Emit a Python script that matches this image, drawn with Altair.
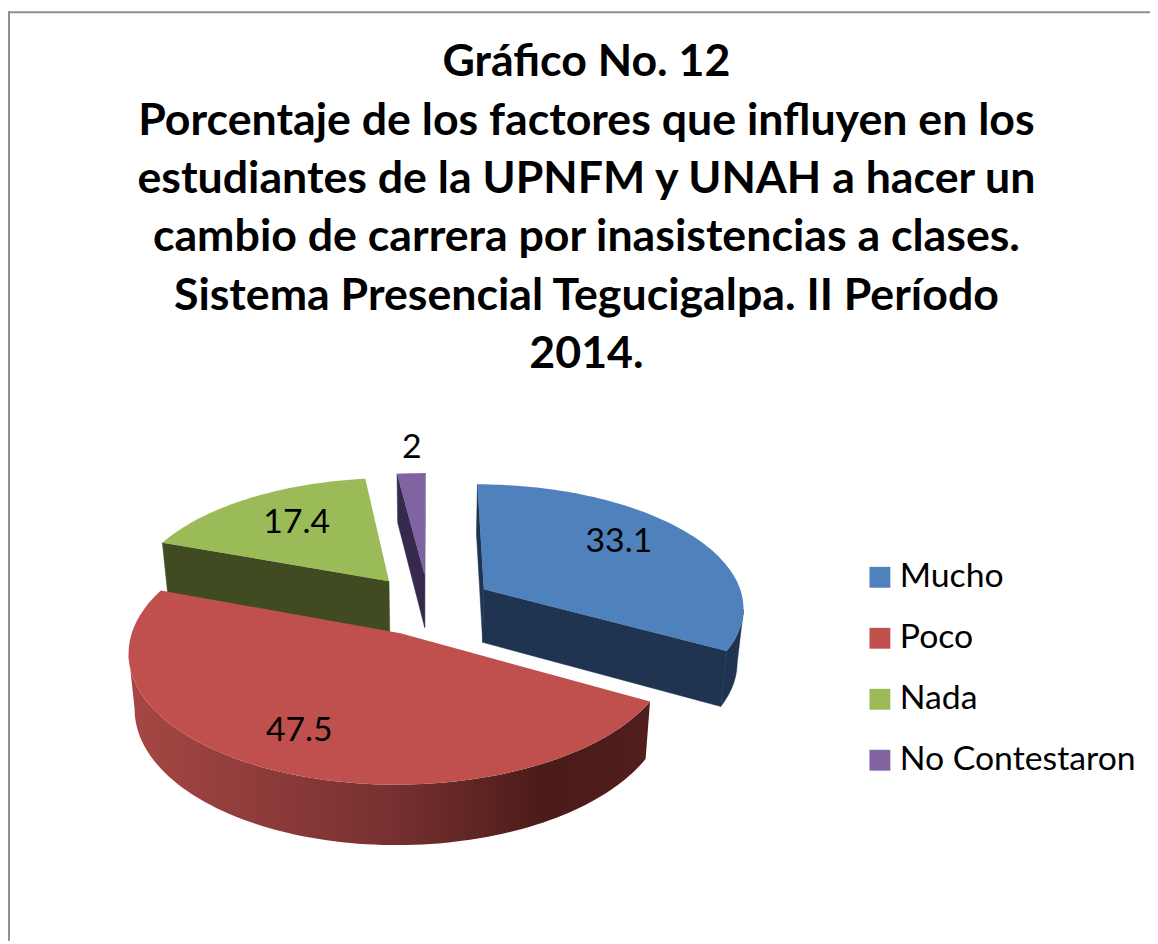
import math
import altair as alt

# ---- values
categories = ["Mucho", "Poco", "Nada", "No Contestaron"]
values = [33.1, 47.5, 17.4, 2]
labels = ["33.1", "47.5", "17.4", "2"]
top_colors = ["#4F81BD", "#C0504D", "#9BBB59", "#8064A2"]
wall_colors = ["#1E3450", "#7A3230", "#404B22", "#352A4E"]

title_lines = [
    "Gráfico No. 12",
    "Porcentaje de los factores que influyen en los",
    "estudiantes de la UPNFM y UNAH a hacer un",
    "cambio de carrera por inasistencias a clases.",
    "Sistema Presencial Tegucigalpa. II Período",
    "2014.",
]

# ---- layout of the projected pie (page pixels)
OX, OY = 8, 8
X0, Y0, RX, RY, PERSP = 431.5, 605.5, 262.5, 123.6, 0.133
EXPLODE, DEPTH, SHRINK = 0.25, 54.0, 0.02
label_offsets = [(136, -47.5), (-102, 98), (-93, -58.5), (-13, -127.5)]
TITLE_X, TITLE_Y0, TITLE_STEP = 590.5, 59.5, 58.8


def top_pt(u, v):
    den = 1 - PERSP * v
    return X0 + RX * u / den, Y0 + RY * v / den


def low_pt(u, v):
    den = 1 - PERSP * v
    x, y = top_pt(u, v)
    return X0 + (x - X0) * (1 - SHRINK), Y0 + (y - Y0) * (1 - SHRINK) + DEPTH / den


def geo(points):
    ring = [[round(x - OX, 2), round(y - OY, 2)] for x, y in points]
    ring.append(ring[0])
    return {"type": "Polygon", "coordinates": [ring]}


total = sum(values)
walls, red_rim, tops, texts = [], [], [], []
start = 0.0
spans = []
for val in values:
    spans.append((start, start + val / total * 2 * math.pi))
    start = spans[-1][1]

for i in [3, 2, 0, 1]:
    a0, a1 = spans[i]
    mid = (a0 + a1) / 2
    ax, ay = EXPLODE * math.sin(mid), -EXPLODE * math.cos(mid)
    n = max(4, int((a1 - a0) / math.radians(1.5)))
    rim = [(ax + math.sin(a0 + (a1 - a0) * j / n), ay - math.cos(a0 + (a1 - a0) * j / n)) for j in range(n + 1)]
    outline = [(ax, ay)] + rim
    visible_rim = []
    for j in range(len(outline)):
        p, q = outline[j], outline[(j + 1) % len(outline)]
        px, py = top_pt(*p)
        qx, qy = top_pt(*q)
        if qx < px - 0.01:
            if 0 < j < len(outline) - 1:
                if not visible_rim:
                    visible_rim.append(p)
                visible_rim.append(q)
            else:
                walls.append({"type": "Feature", "properties": {"c": wall_colors[i]},
                              "geometry": geo([(px, py), (qx, qy), low_pt(*q), low_pt(*p)])})
    if visible_rim:
        poly = [top_pt(*p) for p in visible_rim] + [low_pt(*p) for p in reversed(visible_rim)]
        feature = {"type": "Feature", "properties": {"c": wall_colors[i]}, "geometry": geo(poly)}
        (red_rim if i == 1 else walls).append(feature)
    tops.append({"type": "Feature", "properties": {"category": categories[i]},
                 "geometry": geo([top_pt(*p) for p in outline])})
    tx, ty = top_pt(ax, ay)
    dx, dy = label_offsets[i]
    texts.append({"lon": tx + dx - OX, "lat": ty + dy - OY, "label": labels[i]})

title_rows = [
    {"lon": TITLE_X - OX, "lat": TITLE_Y0 + TITLE_STEP * k - OY, "line": line}
    for k, line in enumerate(title_lines)
]

identity = dict(type="identity", scale=1, translate=[0, 0])
PLOT_W, PLOT_H = 1150, 936

wall_layer = alt.Chart(alt.Data(values=walls)).mark_geoshape(strokeWidth=0.5).encode(
    fill=alt.Fill("properties.c:N", scale=None, legend=None),
    stroke=alt.Stroke("properties.c:N", scale=None, legend=None),
).project(**identity)

rim_layer = alt.Chart(alt.Data(values=red_rim)).mark_geoshape(
    stroke=None,
    fill=alt.Gradient(
        gradient="linear", x1=0, x2=1, y1=0, y2=0,
        stops=[
            alt.GradientStop(offset=0, color="#A64744"),
            alt.GradientStop(offset=0.5, color="#773130"),
            alt.GradientStop(offset=0.8, color="#4B1B19"),
            alt.GradientStop(offset=1, color="#501F1D"),
        ],
    ),
).project(**identity)

top_layer = alt.Chart(alt.Data(values=tops)).mark_geoshape(stroke=None).encode(
    color=alt.Color(
        "properties.category:N",
        scale=alt.Scale(domain=categories, range=top_colors),
        sort=categories,
        legend=alt.Legend(
            title=None, orient="none", legendX=861, legendY=553,
            symbolType="square", symbolSize=441, symbolStrokeWidth=0,
            labelFont="Lato", labelFontSize=34, labelColor="#000000", labelLimit=400,
            labelOffset=3, rowPadding=27.4,
        ),
    )
).project(**identity)

text_layer = alt.Chart(alt.Data(values=texts)).mark_text(
    font="Lato", fontSize=34, color="#000000", align="center", baseline="middle"
).encode(longitude="lon:Q", latitude="lat:Q", text="label:N").project(**identity)

title_layer = alt.Chart(alt.Data(values=title_rows)).mark_text(
    font="Lato", fontSize=45, fontWeight="bold", color="#000000", align="center", baseline="middle"
).encode(longitude="lon:Q", latitude="lat:Q", text="line:N").project(**identity)

frame_left = alt.Chart(alt.Data(values=[{"a": 0}])).mark_rule(color="#8E8E8E", strokeWidth=2).encode(
    x=alt.value(1), y=alt.value(0), y2=alt.value(PLOT_H)
)
frame_top = alt.Chart(alt.Data(values=[{"a": 0}])).mark_rule(color="#8E8E8E", strokeWidth=2).encode(
    x=alt.value(0), x2=alt.value(PLOT_W), y=alt.value(1)
)

chart = alt.layer(
    frame_left, frame_top, wall_layer, rim_layer, top_layer, text_layer, title_layer
).resolve_scale(color="independent", fill="independent", stroke="independent").properties(
    width=PLOT_W,
    height=PLOT_H,
    padding=0,
    autosize=alt.AutoSizeParams(type="none"),
).configure_view(stroke=None)

chart.save("out.html", embed_options={"renderer": "svg", "actions": False})
